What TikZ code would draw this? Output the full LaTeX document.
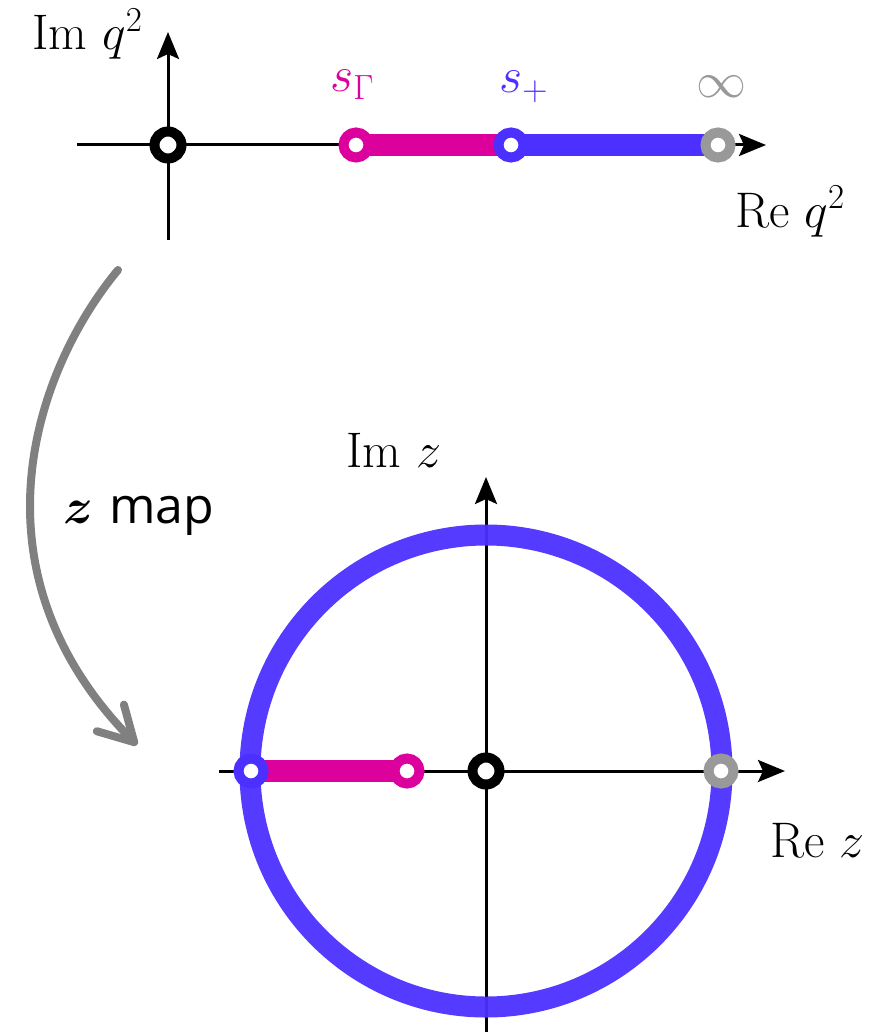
\documentclass[tikz,border=0pt]{standalone}
\usepackage{fix-cm}
\usepackage{amsmath,bm}
\usepackage{fontspec}
\newfontfamily\osans{Open Sans}
\usetikzlibrary{arrows.meta}
\DeclareMathSizes{50}{50}{35}{25}
\definecolor{mag}{RGB}{220,0,156}
\definecolor{blu}{RGB}{75,48,255}
\definecolor{gry}{RGB}{153,153,153}
\definecolor{arr}{RGB}{128,128,128}
\begin{document}
\begin{tikzpicture}[x=1pt,y=-1pt,
  lbl/.style={font=\fontsize{50}{60}\selectfont, inner sep=0pt, anchor=base west},
  axis/.style={line width=3pt, -{Stealth[length=27pt,width=22pt,inset=5pt]}},
  bar/.style={line width=22pt},
  dot/.style={circle, draw=#1, fill=white, line width=10pt, minimum size=25pt, inner sep=0pt},
  bigdot/.style={circle, draw=#1, fill=white, line width=10pt, minimum size=27pt, inner sep=0pt}]
\useasboundingbox (0,0) rectangle (871,1032);
% ---------- top plane ----------
\coordinate (pO1) at (168,145);
\coordinate (pSG) at (356,145);
\coordinate (pSP) at (511,145);
\coordinate (pINF) at (718,145);
\coordinate (xL1) at (77,145);
\coordinate (xR1) at (766,145);
\coordinate (yB1) at (168,240);
\coordinate (yT1) at (168,32);
\draw[axis] (xL1) -- (xR1);
\draw[axis] (yB1) -- (yT1);
\draw[bar, mag] (pSG) -- (pSP);
\draw[bar, blu] (pSP) -- (pINF);
\node[bigdot=black] (o1) at (pO1) {};
\node[dot=mag] (sg) at (pSG) {};
\node[dot=blu] (sp) at (pSP) {};
\node[dot=gry] (inf) at (pINF) {};
\node[lbl] (imq) at (32,50) {Im $q^2$};
\node[lbl] (req) at (735,227) {Re $q^2$};
\node[lbl, text=mag] (lsg) at (330,92) {$s_\Gamma$};
\node[lbl, text=blu] (lsp) at (499,93) {$s_+$};
\node[lbl, text=gry, anchor=base] (linf) at (721,98) {$\infty$};
% ---------- map arrow ----------
\coordinate (mapS) at (118,270);
\coordinate (mapE) at (137,745);
\draw[arr, line width=8pt, line cap=round,
  -{Straight Barb[length=34pt,width=38pt,line cap=round,line join=round]}]
  (mapS) .. controls (35,370) and (-35,570) .. (mapE);
\node[lbl] (zmap) at (63,523) {$\boldsymbol{z}$\hspace{16pt}{\osans map}};
% ---------- bottom plane ----------
\coordinate (pO2) at (486,771);
\coordinate (pA) at (251,771);
\coordinate (pB) at (407,771);
\coordinate (pC) at (721,771);
\coordinate (xL2) at (219,771);
\coordinate (xR2) at (785,771);
\coordinate (yB2) at (486,1032);
\coordinate (yT2) at (486,477);
\draw[axis] (xL2) -- (xR2);
\draw[axis] (yB2) -- (yT2);
\draw[blu, line width=21pt, opacity=0.95] (pO2) circle (236pt);
\draw[bar, mag] (pA) -- (pB);
\node[bigdot=black] (o2) at (pO2) {};
\node[dot=blu] (a) at (pA) {};
\node[dot=mag] (b) at (pB) {};
\node[dot=gry] (c) at (pC) {};
\node[lbl] (imz) at (346,467) {Im $z$};
\node[lbl] (rez) at (770,857) {Re $z$};
\end{tikzpicture}
\end{document}
